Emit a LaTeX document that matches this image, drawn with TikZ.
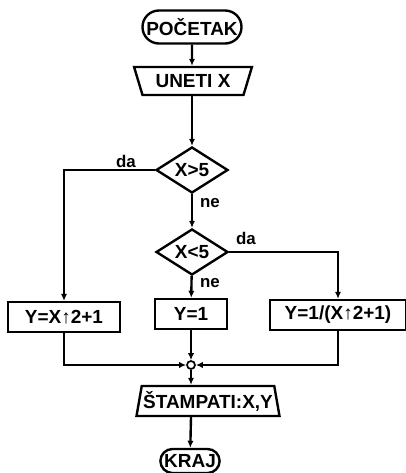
\documentclass[tikz,border=0pt]{standalone}
\usepackage{fontspec}
\setmainfont{Liberation Sans}
\usetikzlibrary{arrows.meta, positioning, shapes.geometric, shapes.misc}

\newcommand{\flowfont}{\bfseries\fontsize{13.5}{16}\selectfont}

\tikzset{
  flow/.style={line width=1.7pt, -{Latex[length=5pt,width=4.5pt]}},
  terminal/.style={draw, line width=1.7pt, rounded rectangle, inner sep=1pt, font=\flowfont},
  procbox/.style={draw, line width=1.7pt, rectangle, minimum height=7.5mm, inner sep=1pt, font=\flowfont},
  decision/.style={draw, line width=1.7pt, diamond, aspect=1.6, minimum width=18mm, minimum height=11.5mm, inner sep=0pt, font=\flowfont},
  iobox/.style={draw, line width=1.7pt, trapezium, trapezium stretches=true, inner sep=1pt, font=\flowfont},
  lbl/.style={font=\bfseries\large}
}

\begin{document}
\begin{tikzpicture}[x=0.25mm, y=-0.25mm]
  \useasboundingbox (0,0) rectangle (406,473);
  % main column
  \node[terminal, minimum width=22.5mm, minimum height=8.25mm] (start) at (192,27) {POČETAK};
  \node[iobox, shape border rotate=180, trapezium left angle=68, trapezium right angle=68,
        minimum width=29.5mm, minimum height=7mm] (input) at (193,81) {UNETI X};
  \node[decision] (gt) at (192,170) {X>5};
  \node[decision] (lt) at (192,252) {X<5};
  % branches
  \node[procbox, minimum width=28mm] (b1) at (64,317) {Y=X↑2+1};
  \node[procbox, minimum width=18mm] (b2) at (191,314) {Y=1};
  \node[procbox, minimum width=34mm] (b3) at (338,315) {Y=1/(X↑2+1)};
  \node[circle, draw, line width=1.2pt, fill=white, inner sep=0pt, minimum size=2mm] (join) at (191,365) {};
  % output and end
  \node[iobox, trapezium left angle=77, trapezium right angle=77,
        minimum width=34mm, minimum height=7.5mm] (output) at (208,401) {ŠTAMPATI:X,Y};
  \node[terminal, minimum width=15.5mm, minimum height=6mm] (stop) at (190,461) {KRAJ};
  % labels
  \node[lbl] (da1) at (126,161) {da};
  \node[lbl] (ne1) at (210,203) {ne};
  \node[lbl] (da2) at (246,238) {da};
  \node[lbl] (ne2) at (210,283) {ne};
  % connectors
  \draw[flow] (start) -- (start |- input.north);
  \draw[flow] (start |- input.south) -- (gt);
  \draw[flow] (gt) -- (lt);
  \draw[flow] (gt.west) -| (b1.north);
  \draw[flow] (lt) -- (b2);
  \draw[flow] (lt.east) -| (b3.north);
  \draw[flow] (b1.south) |- (join.west);
  \draw[flow] (b3.south) |- (join.east);
  \draw[flow] (b2) -- (join);
  \draw[flow] (join) -- (join |- output.north);
  \draw[flow] (join |- output.south) -- (stop);
\end{tikzpicture}
\end{document}
